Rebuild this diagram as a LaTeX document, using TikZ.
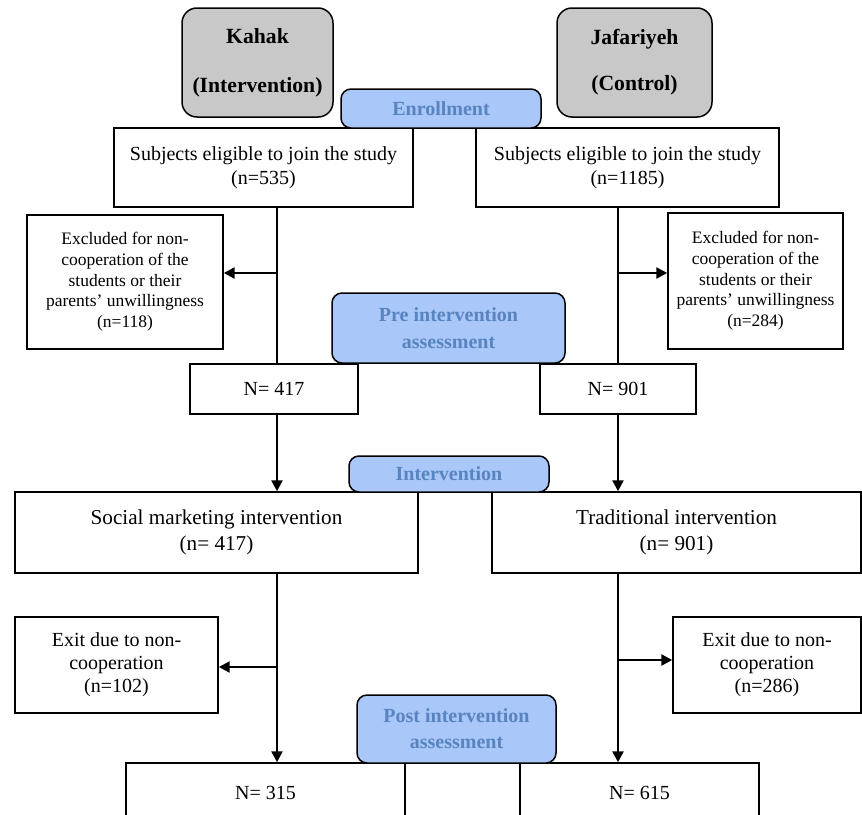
\documentclass[tikz,border=0pt]{standalone}
\usepackage{fontspec}
\setmainfont{Liberation Serif}
\usetikzlibrary{arrows.meta}
\definecolor{groupgray}{RGB}{200,200,200}
\definecolor{stagefill}{RGB}{169,199,248}
\definecolor{stagetext}{RGB}{88,132,192}

\begin{document}
\begin{tikzpicture}[x=0.6pt, y=-0.6pt,
		box/.style={draw, line width=0.9pt, fill=white, align=center, inner sep=0pt, font=\fontsize{12}{14.4}\selectfont},
		group/.style={box, rounded corners=9pt, fill=groupgray, font=\fontsize{13}{15}\selectfont\bfseries},
		stage/.style={box, rounded corners=6pt, fill=stagefill, text=stagetext, font=\fontsize{12}{16}\selectfont\bfseries},
		stem/.style={line width=1.4pt},
		arr/.style={stem, -{Triangle[length=6.5pt,width=6.5pt]}}]
		%%%%% FRAME %%%%%
		
		\useasboundingbox (0,0) rectangle (862,814);
		\clip (0,0) rectangle (862,814);
		
		%%%%% GROUPS %%%%%
		
		\node[group, minimum width=90.6pt, minimum height=65.4pt] (kahak) at (257.5,62.5) {Kahak\\[14.5pt](Intervention)};
		\node[group, minimum width=93pt, minimum height=65.4pt] (jafar) at (634.5,62.5) {Jafariyeh\\[12.5pt](Control)};
		
		%%%%% ENROLLMENT %%%%%
		
		\node[box, minimum width=179.4pt, minimum height=47.4pt] (subjL) at (263.5,167.5) {Subjects eligible to join the study\\(n=535)};
		\node[box, minimum width=181.8pt, minimum height=47.4pt] (subjR) at (627.5,167.5) {Subjects eligible to join the study\\(n=1185)};
		\node[stage, minimum width=120pt, minimum height=23.4pt] (enroll) at (441,108.5) {Enrollment};
		
		\node[box, font=\fontsize{10.5}{12.4}\selectfont, minimum width=117.6pt, minimum height=80.4pt] (exclL) at (125,282) {Excluded for non-\\cooperation of the\\students or their\\parents' unwillingness\\(n=118)};
		\node[box, font=\fontsize{10.5}{12.4}\selectfont, minimum width=105pt, minimum height=81.6pt] (exclR) at (755.5,281) {Excluded for non-\\cooperation of the\\students or their\\parents' unwillingness\\(n=284)};
		
		%%%%% PRE %%%%%
		
		\node[stage, minimum width=139.8pt, minimum height=42pt] (pre) at (448.5,328) {Pre intervention\\assessment};
		\node[box, minimum width=100.8pt, minimum height=30pt] (nL) at (274,389) {N= 417};
		\node[box, minimum width=93.6pt, minimum height=30pt] (nR) at (618,389) {N= 901};
		
		%%%%% INTERVENTION %%%%%
		
		\node[box, font=\fontsize{12.7}{15.6}\selectfont, minimum width=241.8pt, minimum height=48.6pt] (soc) at (216.5,532.5) {Social marketing intervention\\(n= 417)};
		\node[box, font=\fontsize{12.7}{15.6}\selectfont, minimum width=221.4pt, minimum height=48.6pt] (trad) at (676.5,532.5) {Traditional intervention\\(n= 901)};
		\node[stage, minimum width=120pt, minimum height=21.6pt] (interv) at (449,474) {Intervention};
		
		\node[box, font=\fontsize{12}{13.8}\selectfont, minimum width=121.8pt, minimum height=57.6pt] (exitL) at (116.5,665) {Exit due to non-\\cooperation\\(n=102)};
		\node[box, font=\fontsize{12}{13.8}\selectfont, minimum width=112.8pt, minimum height=57.6pt] (exitR) at (767,665) {Exit due to non-\\cooperation\\(n=286)};
		
		%%%%% POST %%%%%
		
		\node[box, minimum width=167.4pt, minimum height=35.4pt] (outL) at (265.5,792.5) {N= 315};
		\node[box, minimum width=143.4pt, minimum height=35.4pt] (outR) at (639.5,792.5) {N= 615};
		\node[stage, font=\fontsize{12}{15.6}\selectfont\bfseries, minimum width=119.4pt, minimum height=40.8pt] (post) at (456.5,729) {Post intervention\\assessment};
		
		%%%%% FLOW %%%%%
		
		\coordinate (axL) at (277,0);
		\coordinate (axR) at (618,0);
		\coordinate (brL) at (277,273);
		\coordinate (brR) at (618,273);
		\coordinate (brL2) at (277,667);
		\coordinate (brR2) at (618,660);
		
		\draw[stem] (subjL.south -| axL) -- (nL.north -| axL);
		\draw[stem] (subjR.south -| axR) -- (nR.north -| axR);
		\draw[arr] (brL) -- (brL -| exclL.east);
		\draw[arr] (brR) -- (brR -| exclR.west);
		
		\draw[arr] (nL.south -| axL) -- (soc.north -| axL);
		\draw[arr] (nR.south -| axR) -- (trad.north -| axR);
		
		\draw[arr] (soc.south -| axL) -- (outL.north -| axL);
		\draw[arr] (trad.south -| axR) -- (outR.north -| axR);
		\draw[arr] (brL2) -- (brL2 -| exitL.east);
		\draw[arr] (brR2) -- (brR2 -| exitR.west);
		
		%%%%% END %%%%%
	\end{tikzpicture}
\end{document}
